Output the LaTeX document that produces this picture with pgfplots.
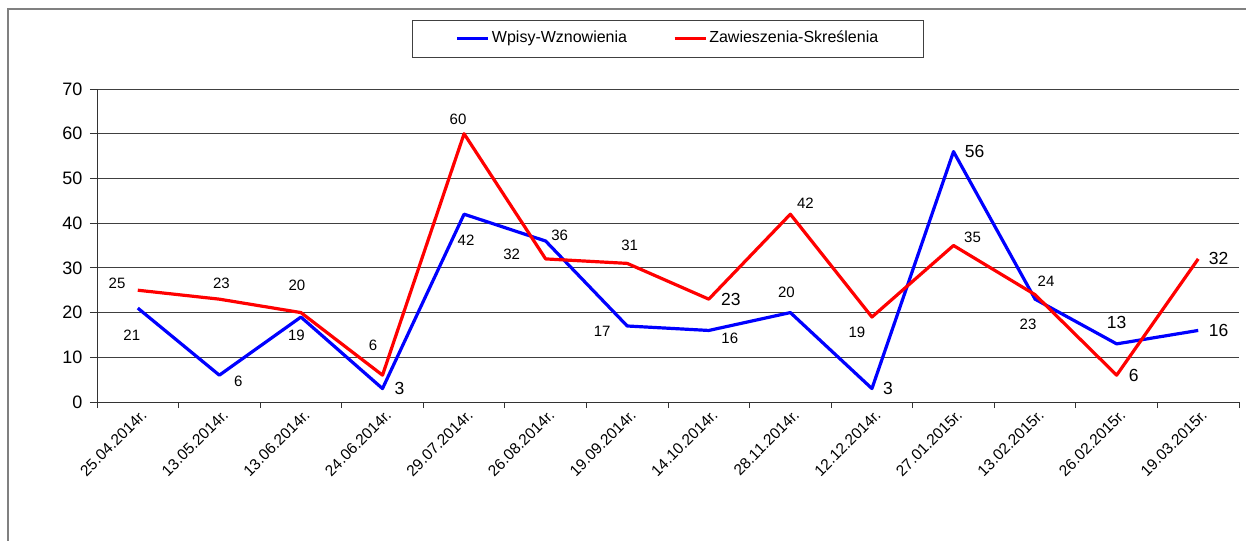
\documentclass[border=0pt]{standalone}
\usepackage{fontspec}
\setmainfont{Liberation Sans}
\usepackage{pgfplots}
\usepackage{pgfplotstable}
\pgfplotsset{compat=1.18}

\newcommand\smallf{\fontsize{15bp}{18bp}\selectfont}
\newcommand\bigf{\fontsize{17.5bp}{20bp}\selectfont}
\newcommand\ytickf{\fontsize{18bp}{21bp}\selectfont}
\newcommand\xtickf{\fontsize{15.5bp}{18bp}\selectfont}
\newcommand\legf{\fontsize{16bp}{19bp}\selectfont}

\pgfplotstableread{
x blue red bdx bdy bbig rdx rdy rbig
0 21 25 -6 -27 0 -20.7 6.4 0
1 6 23 19 -6.4 0 2 15.4 0
2 19 20 -4.5 -18.6 0 -4 27.7 0
3 3 6 17 0 1 -9.5 30 0
4 42 60 2 -26.5 0 -6 14.4 0
5 36 32 14 6 0 -34 5 0
6 17 31 -25 -5.7 0 2.4 17.7 0
7 16 23 21 -8 0 22 0 1
8 20 42 -4 20 0 15 11 0
9 3 19 16 0 1 -15 -15 0
10 56 35 21 0 1 19 8 0
11 23 24 -7 -25.5 0 11 13 0
12 13 6 0 21 1 17 0 1
13 16 32 20.5 0 1 20.5 0 1
}\data

\pgfplotsset{
  lbl/.style n args={3}{draw=none, mark=none, forget plot,
    point meta=explicit symbolic,
    visualization depends on={\thisrow{#1}\as\dx},
    visualization depends on={\thisrow{#2}\as\dy},
    visualization depends on={\thisrow{#3}\as\isbig},
    nodes near coords,
    every node near coord/.style={anchor=center, inner sep=0pt, text=black,
      xshift=\dx bp, yshift=\dy bp,
      font=\ifdim\isbig pt>0.5pt\bigf\else\smallf\fi}},
}

\begin{document}
\begin{tikzpicture}
\begin{axis}[
  at={(0,0)}, anchor=south west, scale only axis,
  width=1142bp, height=313bp,
  xmin=-0.5, xmax=13.5, ymin=0, ymax=70,
  axis lines*=left,
  axis line style={black!80, line width=0.8bp},
  tick align=outside,
  major tick length=7bp, minor tick length=6bp,
  tick style={black!80, line width=0.8bp},
  major x tick style={draw=none},
  ytick={0,10,...,70},
  ymajorgrids,
  grid style={black!75, line width=0.8bp},
  xtick={0,...,13},
  minor xtick={-0.5,0.5,...,13.5},
  xticklabels={25.04.2014r.,13.05.2014r.,13.06.2014r.,24.06.2014r.,29.07.2014r.,26.08.2014r.,19.09.2014r.,14.10.2014r.,28.11.2014r.,12.12.2014r.,27.01.2015r.,13.02.2015r.,26.02.2015r.,19.03.2015r.},
  xticklabel style={font=\xtickf, rotate=45, anchor=north east, inner sep=1bp, xshift=3bp, yshift=0bp},
  yticklabel style={font=\ytickf, xshift=-4bp},
  /pgf/number format/assume math mode=true,
  clip=false,
  legend columns=2,
  legend image code/.code={\draw[#1] (0bp,0bp) -- (31bp,0bp);},
  legend style={at={(0.5,1.2204)}, anchor=north, draw=black!75, line width=0.8bp,
    font=\legf, inner xsep=43bp, inner ysep=10.5bp,
    nodes={inner xsep=2bp, inner ysep=0bp, text height=12bp, text depth=3.5bp},
    /tikz/every even column/.append style={column sep=44bp}},
]
\addplot[blue, line width=3.2bp, line join=round] table[x=x, y=blue]{\data};
\addlegendentry{Wpisy-Wznowienia}
\addplot[red, line width=3.2bp, line join=round] table[x=x, y=red]{\data};
\addlegendentry{Zawieszenia-Skreślenia}
\addplot[lbl={bdx}{bdy}{bbig}] table[x=x, y=blue, meta=blue]{\data};
\addplot[lbl={rdx}{rdy}{rbig}] table[x=x, y=red, meta=red]{\data};
\end{axis}
\draw[black!50, line width=1.5bp] (-89bp,-150bp) -- (-89bp,393bp) -- (1160bp,393bp);
\pgfresetboundingbox
\useasboundingbox (-97bp,-139bp) rectangle (1149bp,402bp);
\end{tikzpicture}
\end{document}
